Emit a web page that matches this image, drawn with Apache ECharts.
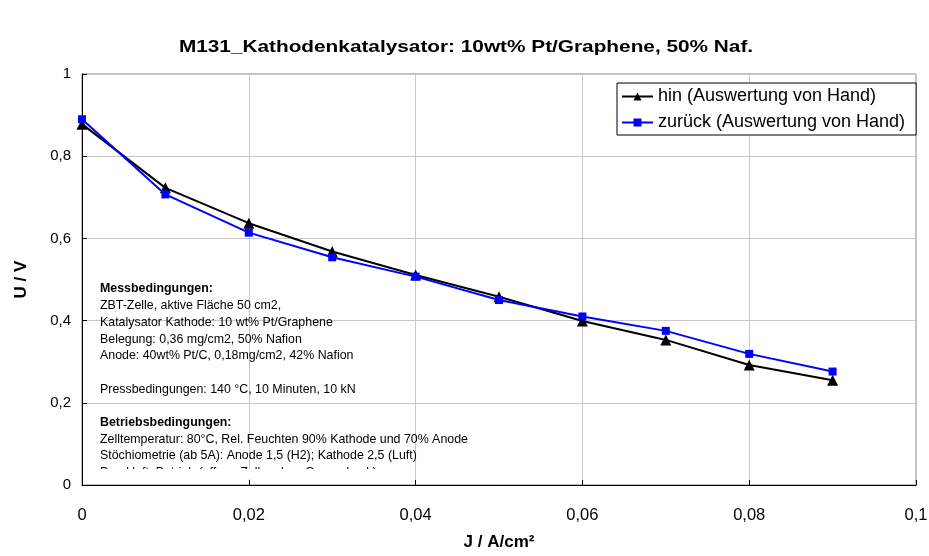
<!DOCTYPE html>
<html><head><meta charset="utf-8">
<script src="https://cdn.jsdelivr.net/npm/echarts@6/dist/echarts.min.js"></script>
<style>html,body{margin:0;padding:0;background:#fff}#c{width:929px;height:556px}</style>
</head><body><div id="c"></div>
<script>
const xValues = [0, 0.01, 0.02, 0.03, 0.04, 0.05, 0.06, 0.07, 0.08, 0.09];
const hinValues = [0.878, 0.723, 0.637, 0.568, 0.511, 0.458, 0.399, 0.353, 0.292, 0.255];
const zurueckValues = [0.890, 0.707, 0.614, 0.554, 0.507, 0.450, 0.410, 0.375, 0.319, 0.276];
const seriesNames = ['hin (Auswertung von Hand)', 'zurück (Auswertung von Hand)'];
const titleText = 'M131_Kathodenkatalysator: 10wt% Pt/Graphene, 50% Naf.';
const noteLines = [
  ['Messbedingungen:', true],
  ['ZBT-Zelle, aktive Fläche 50 cm2,', false],
  ['Katalysator Kathode: 10 wt% Pt/Graphene', false],
  ['Belegung: 0,36 mg/cm2, 50% Nafion', false],
  ['Anode: 40wt% Pt/C, 0,18mg/cm2, 42% Nafion', false],
  ['', false],
  ['Pressbedingungen: 140 °C, 10 Minuten, 10 kN', false],
  ['', false],
  ['Betriebsbedingungen:', true],
  ['Zelltemperatur: 80°C, Rel. Feuchten 90% Kathode und 70% Anode', false],
  ['Stöchiometrie (ab 5A): Anode 1,5 (H2); Kathode 2,5 (Luft)', false],
  ['Druckluft: Betrieb (offene Zelle, ohne Gegendruck)', false]
];
const fmt = v => String(+v.toFixed(2)).replace('.', ',');
const FONT = 'Liberation Sans, Arial, sans-serif';
const chart = echarts.init(document.getElementById('c'), null, {renderer: 'canvas'});
const lineTexts = noteLines.map((l, i) => ({
  type: 'text', x: 100, y: 283 + i * 16.7, z: 50,
  style: {text: l[0], font: (l[1] ? 'bold ' : '') + '12.4px ' + FONT, fill: '#000', textVerticalAlign: 'top'}
}));
chart.setOption({
  animation: false,
  backgroundColor: '#fff',
  grid: {left: 82, right: 13, top: 74, bottom: 71, show: true, borderColor: '#808080', borderWidth: 1,
    containLabel: false, outerBoundsMode: 'none'},
  legend: {
    orient: 'vertical', left: 617, top: 83, z: 60,
    backgroundColor: '#fff', borderColor: '#000', borderWidth: 1, borderRadius: 0,
    padding: [3, 11, 2, 4], itemGap: 5, itemWidth: 31, itemHeight: 10,
    textStyle: {fontFamily: FONT, fontSize: 18, color: '#000', lineHeight: 21},
    data: seriesNames
  },
  xAxis: {
    type: 'value', min: 0, max: 0.1, interval: 0.02,
    name: 'J / A/cm²', nameLocation: 'middle', nameGap: 49,
    nameTextStyle: {fontFamily: FONT, fontSize: 17, fontWeight: 'bold', color: '#000'},
    axisLine: {show: true, onZero: false, lineStyle: {color: '#000', width: 1}},
    axisTick: {show: true, inside: true, length: 5, lineStyle: {color: '#000'}},
    axisLabel: {formatter: fmt, margin: 22, fontFamily: FONT, fontSize: 16.5, color: '#000'},
    splitLine: {show: true, lineStyle: {color: '#c8c8c8', width: 1}}
  },
  yAxis: {
    type: 'value', min: 0, max: 1, interval: 0.2,
    name: 'U / V', nameLocation: 'middle', nameGap: 52, nameRotate: 90,
    nameTextStyle: {fontFamily: FONT, fontSize: 17, fontWeight: 'bold', color: '#000'},
    axisLine: {show: true, onZero: false, lineStyle: {color: '#000', width: 1}},
    axisTick: {show: true, inside: true, length: 5, lineStyle: {color: '#000'}},
    axisLabel: {formatter: fmt, margin: 11, fontFamily: FONT, fontSize: 15, color: '#000'},
    splitLine: {show: true, lineStyle: {color: '#c8c8c8', width: 1}}
  },
  series: [
    {name: seriesNames[0], type: 'line', data: xValues.map((x, i) => [x, hinValues[i]]),
     symbol: 'triangle', symbolSize: 11, z: 3,
     lineStyle: {color: '#000', width: 2}, itemStyle: {color: '#000'}},
    {name: seriesNames[1], type: 'line', data: xValues.map((x, i) => [x, zurueckValues[i]]),
     symbol: 'rect', symbolSize: 8, z: 4,
     lineStyle: {color: '#0000ff', width: 2}, itemStyle: {color: '#0000ff'}}
  ],
  graphic: [
    {type: 'text', x: 466, y: 47, scaleX: 1.26, z: 50,
     style: {text: titleText, font: 'bold 16.5px ' + FONT, fill: '#000', textAlign: 'center', textVerticalAlign: 'middle'}}
  ].concat(lineTexts).concat([
    {type: 'rect', shape: {x: 90, y: 469, width: 300, height: 10}, z: 55, style: {fill: '#fff'}}
  ])
});
</script></body></html>
